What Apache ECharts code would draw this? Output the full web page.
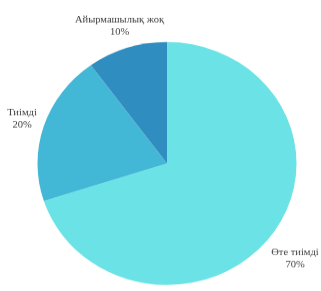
<!DOCTYPE html>
<html>
<head>
<meta charset="utf-8">
<script src="https://cdn.jsdelivr.net/npm/echarts@6/dist/echarts.min.js"></script>
<style>
html,body{margin:0;padding:0;background:#fff;overflow:hidden;}
#wrap{width:321px;height:291px;overflow:hidden;}
#chart{width:321px;height:310px;transform:scale(1,0.938);transform-origin:0 0;}
</style>
</head>
<body>
<div id="wrap"><div id="chart"></div></div>
<script>
var categories = ['Өте тиімді', 'Тиімді', 'Айырмашылық жоқ'];
var values = [70, 20, 10];
var colors = ['#6be3e6', '#43b7d6', '#2f8ebf'];
var labelPos = [[295, 276], [22, 127], [119.5, 27.5]];

var chart = echarts.init(document.getElementById('chart'), null, {renderer: 'canvas'});
chart.setOption({
  animation: false,
  backgroundColor: '#fff',
  series: [{
    type: 'pie',
    center: [167, 174.3],
    radius: [0, 129.5],
    startAngle: 90,
    clockwise: true,
    avoidLabelOverlap: false,
    itemStyle: {borderWidth: 0},
    label: {
      show: true,
      position: 'outside',
      formatter: '{b}\n{d}%',
      fontFamily: 'Liberation Serif',
      fontSize: 10.5,
      lineHeight: 13,
      color: '#404040'
    },
    labelLine: {show: false},
    labelLayout: function (p) {
      var pos = labelPos[p.dataIndex];
      return {x: pos[0], y: pos[1], align: 'center', verticalAlign: 'middle'};
    },
    emphasis: {disabled: true},
    data: categories.map(function (c, i) {
      return {name: c, value: values[i], itemStyle: {color: colors[i]}};
    })
  }]
});
</script>
</body>
</html>
